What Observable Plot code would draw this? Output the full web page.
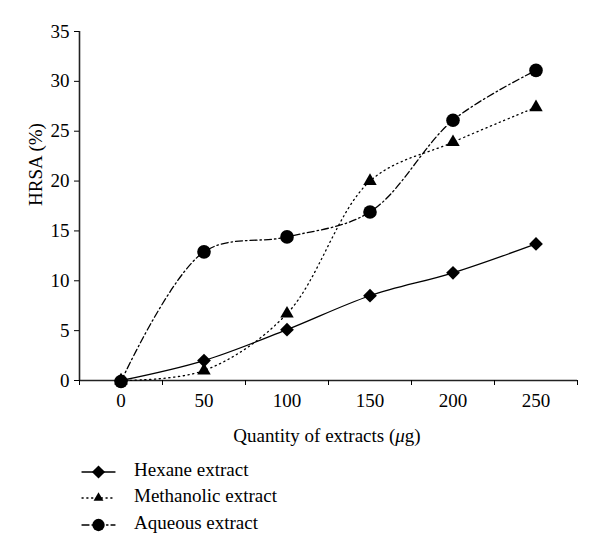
<!DOCTYPE html>
<html>
<head>
<meta charset="utf-8">
<script src="https://cdn.jsdelivr.net/npm/d3@7"></script>
<script src="https://cdn.jsdelivr.net/npm/@observablehq/plot@0.6"></script>
<style>
  html, body { margin: 0; padding: 0; background: #fff; }
  #chart { width: 600px; font-family: "Liberation Serif", "Times New Roman", "DejaVu Serif", serif; }
  svg { display: block; }
</style>
</head>
<body>
<div id="chart"></div>
<script>
// Data
const quantities = [0, 50, 100, 150, 200, 250];
const hexane     = [0, 2.0, 5.1, 8.5, 10.8, 13.7];
const methanolic = [0, 1.0, 6.7, 20.0, 23.9, 27.4];
const aqueous    = [-0.1, 12.9, 14.4, 16.9, 26.1, 31.1];
const seriesNames = ["Hexane extract", "Methanolic extract", "Aqueous extract"];
const yTicks = [0, 5, 10, 15, 20, 25, 30, 35];
const xBoundaryTicks = [-25, 25, 75, 125, 175, 225, 275];

const FONT = "'Liberation Serif', 'Times New Roman', 'DejaVu Serif', serif";
const FS = 19;

const styles = {
  "Hexane extract":     {dash: null,        symbol: "diamond2", r: 6.2, dsym: d3.symbolDiamond2, size: 110},
  "Methanolic extract": {dash: "1.2,3.6",   symbol: "triangle", r: 5.0, dsym: d3.symbolTriangle2, size: 70},
  "Aqueous extract":    {dash: "7,3,1.5,3", symbol: "circle",   r: 6.8, dsym: d3.symbolCircle, size: 120}
};

const values = [hexane, methanolic, aqueous];
const rows = [];
seriesNames.forEach((name, i) => {
  quantities.forEach((q, j) => rows.push({series: name, x: q, y: values[i][j]}));
});

const marks = [
  Plot.ruleX([-25], {stroke: "#222", strokeWidth: 1.6}),
  Plot.ruleY([0], {stroke: "#222", strokeWidth: 1.6}),
  Plot.axisY({ticks: yTicks, tickSize: 5, tickPadding: 5, fontSize: FS, fontFamily: FONT, label: null}),
  Plot.axisX({ticks: xBoundaryTicks, tickSize: 5, tickFormat: () => "", label: null}),
  Plot.axisX({ticks: quantities, tickSize: 0, tickPadding: 13, fontSize: FS, fontFamily: FONT, label: null})
];

seriesNames.forEach(name => {
  const s = styles[name];
  const data = rows.filter(d => d.series === name);
  marks.push(Plot.line(data, {
    x: "x", y: "y", curve: "catmull-rom", stroke: "black", strokeWidth: 1.3,
    strokeDasharray: s.dash, strokeLinecap: "round"
  }));
  marks.push(Plot.dot(data, {x: "x", y: "y", symbol: s.symbol, r: s.r, fill: "black", stroke: "none"}));
});

marks.push(Plot.text(["HRSA (%)"], {frameAnchor: "left", dx: -44, rotate: -90, fontSize: FS, fontFamily: FONT, text: d => d}));

const plot = Plot.plot({
  width: 600,
  height: 450,
  marginLeft: 79,
  marginRight: 23,
  marginTop: 31,
  marginBottom: 70,
  style: {fontFamily: FONT, fontSize: FS + "px", color: "black", background: "white", overflow: "visible"},
  x: {domain: [-25, 275]},
  y: {domain: [0, 35]},
  marks
});

// X axis title with italic mu
const svgSel = d3.select(plot);
const xt = svgSel.append("text")
  .attr("x", 327).attr("y", 438)
  .attr("text-anchor", "middle").attr("dominant-baseline", "middle")
  .attr("font-size", FS).attr("font-family", FONT).attr("fill", "black");
xt.append("tspan").text("Quantity of extracts (");
xt.append("tspan").attr("font-style", "italic").text("μ");
xt.append("tspan").text("g)");

document.getElementById("chart").appendChild(plot);

// Legend below the chart
const legend = d3.create("svg").attr("width", 600).attr("height", 106)
  .attr("font-family", FONT).attr("font-size", FS);
const rowY = [22, 48, 75];
seriesNames.forEach((name, i) => {
  const s = styles[name];
  const g = legend.append("g").attr("transform", `translate(0,${rowY[i]})`);
  g.append("line").attr("x1", 82).attr("x2", 115).attr("y1", 0).attr("y2", 0)
    .attr("stroke", "black").attr("stroke-width", 1.3)
    .attr("stroke-dasharray", s.dash).attr("stroke-linecap", "round");
  g.append("path").attr("transform", "translate(98.5,0)")
    .attr("d", d3.symbol(s.dsym, s.size)()).attr("fill", "black");
  g.append("text").attr("x", 134).attr("y", 0).attr("dominant-baseline", "middle")
    .attr("fill", "black").text(name);
});
document.getElementById("chart").appendChild(legend.node());
</script>
</body>
</html>
